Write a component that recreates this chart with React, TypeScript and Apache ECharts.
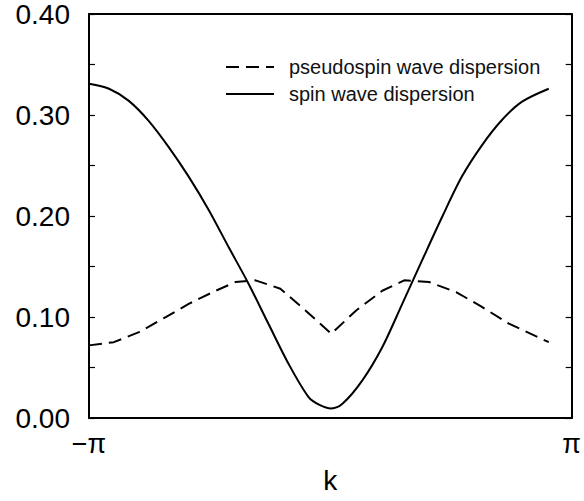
import React, { useEffect, useRef } from "react";
import * as echarts from "echarts";

// k in units of pi
const spinK = [-1, -0.917, -0.835, -0.752, -0.669, -0.587, -0.504, -0.421, -0.339, -0.256, -0.174, -0.091, -0.045, 0.004, 0.05, 0.132, 0.215, 0.298, 0.38, 0.463, 0.545, 0.628, 0.711, 0.793, 0.905];
const spinE = [0.331, 0.326, 0.314, 0.294, 0.268, 0.239, 0.206, 0.169, 0.133, 0.093, 0.054, 0.021, 0.013, 0.0095, 0.014, 0.037, 0.07, 0.113, 0.156, 0.199, 0.239, 0.27, 0.295, 0.313, 0.326];

const pseudoK = [-1, -0.897, -0.793, -0.682, -0.587, -0.475, -0.393, -0.31, -0.207, -0.103, 0.004, 0.107, 0.215, 0.306, 0.409, 0.521, 0.628, 0.74, 0.905];
const pseudoE = [0.0719, 0.0751, 0.085, 0.0999, 0.113, 0.126, 0.1346, 0.1363, 0.128, 0.1065, 0.0834, 0.1065, 0.126, 0.1363, 0.1346, 0.1247, 0.11, 0.0934, 0.0751];

const yTicks = [0, 0.1, 0.2, 0.3, 0.4];
const xTickLabels: Record<string, string> = { "-1": "\u2212\u03c0", "1": "\u03c0" };

const FONT = "'Liberation Sans', Arial, Helvetica, sans-serif";

export default function App() {
  const ref = useRef<HTMLDivElement>(null);
  useEffect(() => {
    if (!ref.current) return;
    const chart = echarts.init(ref.current, undefined, { renderer: "svg" });
    const spinData = spinK.map((k, i) => [k, spinE[i]]);
    const pseudoData = pseudoK.map((k, i) => [k, pseudoE[i]]);
    const yAxisBase = {
      type: "value" as const,
      min: yTicks[0],
      max: yTicks[yTicks.length - 1],
      interval: 0.1,
      splitLine: { show: false },
      axisLine: { show: true, onZero: false, lineStyle: { color: "#000", width: 2 } },
      axisTick: { show: true, inside: true, length: 6, lineStyle: { color: "#000", width: 1.2 } },
      minorTick: { show: true, splitNumber: 2, length: 6, lineStyle: { color: "#000", width: 1.2 } },
    };
    chart.setOption({
      animation: false,
      backgroundColor: "#fff",
      textStyle: { fontFamily: FONT },
      grid: { left: 89, top: 14, width: 484, height: 404, show: false },
      legend: {
        orient: "vertical",
        left: 220,
        top: 51,
        itemWidth: 48,
        itemHeight: 14,
        itemGap: 5,
        itemStyle: { opacity: 0 },
        textStyle: { fontSize: 20, color: "#111", fontFamily: FONT, lineHeight: 22, padding: [0, 0, 0, 10] },
        data: ["pseudospin wave dispersion", "spin wave dispersion"],
      },
      xAxis: [
        {
          type: "value",
          min: -1,
          max: 1,
          interval: 1,
          name: "k",
          nameLocation: "middle",
          nameGap: 48,
          nameTextStyle: { fontSize: 28, color: "#000", fontFamily: FONT },
          splitLine: { show: false },
          axisLine: { show: true, onZero: false, lineStyle: { color: "#000", width: 2 } },
          axisTick: { show: false },
          axisLabel: {
            fontSize: 27,
            color: "#000",
            margin: 12,
            fontFamily: FONT,
            formatter: (v: number) => xTickLabels[String(v)] ?? "",
          },
        },
        {
          type: "value",
          position: "top",
          min: -1,
          max: 1,
          interval: 1,
          splitLine: { show: false },
          axisLine: { show: true, onZero: false, lineStyle: { color: "#000", width: 2 } },
          axisTick: { show: false },
          axisLabel: { show: false },
        },
      ],
      yAxis: [
        {
          ...yAxisBase,
          position: "left",
          axisLabel: {
            fontSize: 28,
            color: "#000",
            margin: 19,
            fontFamily: FONT,
            formatter: (v: number) => v.toFixed(2),
          },
        },
        {
          ...yAxisBase,
          position: "right",
          axisLabel: { show: false },
        },
      ],
      series: [
        {
          name: "pseudospin wave dispersion",
          type: "line",
          data: pseudoData,
          showSymbol: false,
          symbol: "none",
          smooth: false,
          lineStyle: { color: "#000", width: 2, type: [13, 7] },
          itemStyle: { color: "#000" },
        },
        {
          name: "spin wave dispersion",
          type: "line",
          data: spinData,
          showSymbol: false,
          symbol: "none",
          smooth: 0.3,
          lineStyle: { color: "#000", width: 2 },
          itemStyle: { color: "#000" },
        },
      ],
    });
    return () => chart.dispose();
  }, []);
  return (
    <div
      ref={ref}
      style={{ width: 584, height: 501, position: "absolute", left: 0, top: 0, background: "#fff" }}
    />
  );
}
